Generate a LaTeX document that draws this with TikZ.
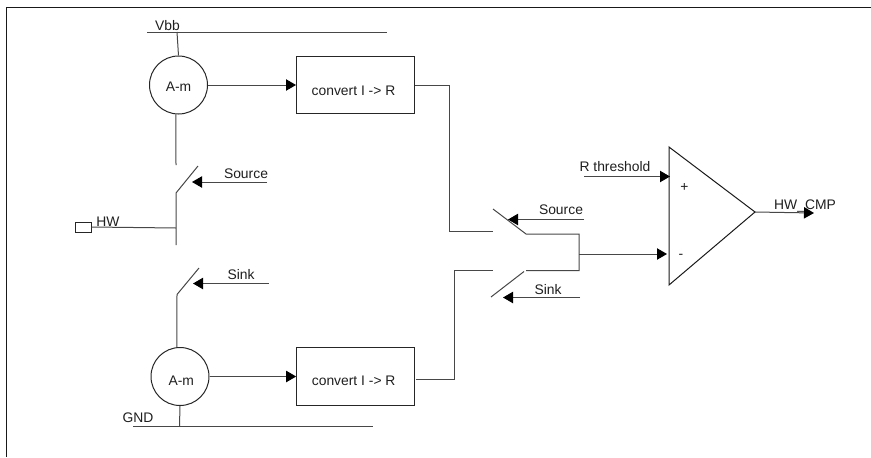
\documentclass[tikz,border=0pt]{standalone}
\usepackage{fontspec}
\setmainfont{Liberation Sans}
\usetikzlibrary{
	arrows.meta,
	positioning
}

\begin{document}
\begin{tikzpicture}[x=0.75pt, y=-0.75pt, line width=0.75pt, black!72,
        >={Triangle[length=7.5pt, width=8.5pt, color=black]},
        lbl/.style={inner sep=0pt, text=black!88, font=\fontsize{10.4}{12}\selectfont},
        meter/.style={draw=black!85, circle, minimum size=43.5pt, inner sep=0pt},
        conv/.style={draw=black!85, rectangle, minimum width=88.5pt, minimum height=43pt, inner sep=0pt}]
        \useasboundingbox (0,0) rectangle (871,457);
        \draw[black!90, line width=1.1pt] (871,7.5) -- (6.5,7.5) -- (6.5,457); % Page frame, open on two sides

        \node[meter, label={[lbl, yshift=-1.5pt]center:A-m}] (AmTop) at (178.5,85) {};
        \node[conv, right=66pt of AmTop, label={[lbl, yshift=-4pt, xshift=-1.5pt]center:convert I -> R}] (ConvTop) {};
        \node[meter, label={[lbl, yshift=-3.5pt, xshift=1pt]center:A-m}] (AmBot) at (180,376.5) {};
        \node[conv, right=65pt of AmBot, label={[lbl, yshift=-3.5pt, xshift=-1.5pt]center:convert I -> R}] (ConvBot) {};
        \node[draw=black!85, rectangle, minimum width=12pt, minimum height=7.5pt, inner sep=0pt] (HWpad) at (83,227) {};

        \node[lbl] (Vbb) at (167.5,26) {Vbb};
        \node[lbl] (GND) at (138,418) {GND};
        \node[lbl] (HW) at (108,221.5) {HW};
        \node[lbl] (SrcA) at (246,174) {Source};
        \node[lbl] (SnkA) at (241,275) {Sink};
        \node[lbl] (SrcB) at (561,210) {Source};
        \node[lbl] (SnkB) at (548,290) {Sink};
        \node[lbl] (Rth) at (615,167) {R threshold};
        \node[lbl] (Out) at (805,206) {HW\_CMP};
        \node[lbl] (Plus) at (684.5,187) {+};
        \node[lbl] (Minus) at (681,256) {-};

        % Supply rails
        \coordinate (VbbL) at (147,32);
        \coordinate (VbbR) at (387,32);
        \coordinate (VbbTap) at (177,32);
        \coordinate (GndL) at (133,426);
        \coordinate (GndR) at (373,426);
        \coordinate (GndTap) at (179.5,426);
        \draw (VbbL) -- (VbbR);
        \draw (VbbTap) -- (AmTop.north);
        \draw (GndL) -- (GndR);
        \draw (AmBot.south) -- (GndTap);

        % Left switches
        \coordinate (SwAopen) at (176,165);
        \coordinate (SwAtip) at (198,166);
        \coordinate (SwAhinge) at (176,193);
        \coordinate (SwAend) at (176,245);
        \coordinate (HWtap) at (176,228);
        \coordinate (SrcAfrom) at (267,182);
        \coordinate (SrcAto) at (192,182);
        \coordinate (SwBtip) at (199,268);
        \coordinate (SwBhinge) at (177,294.5);
        \coordinate (SnkAfrom) at (268.5,283.5);
        \coordinate (SnkAto) at (193,283.5);
        \draw (AmTop.265) -- (SwAopen);
        \draw (SwAtip) -- (SwAhinge) -- (SwAend);
        \draw (HWpad.east) -- (HWtap);
        \draw[->] (SrcAfrom) -- (SrcAto);
        \draw (SwBtip) -- (SwBhinge) -- (AmBot.96);
        \draw[->] (SnkAfrom) -- (SnkAto);

        \draw[->] (AmTop) -- (ConvTop);
        \draw[->] (AmBot) -- (ConvBot);

        % Right switches
        \coordinate (TopTurn) at (449,85);
        \coordinate (TopIn) at (449,231);
        \coordinate (TopEnd) at (493,231);
        \coordinate (BotOut) at (416,379);
        \coordinate (BotTurn) at (454,379);
        \coordinate (BotIn) at (454,270.5);
        \coordinate (BotEnd) at (493,270.5);
        \coordinate (SwCtip) at (493,209);
        \coordinate (SwChinge) at (526,234);
        \coordinate (SwDtip) at (491,297);
        \coordinate (SwDhinge) at (524,271.5);
        \coordinate (SwDstart) at (526,270.5);
        \coordinate (Join) at (579,270.5);
        \coordinate (JoinTop) at (579,234);
        \coordinate (JoinOut) at (579,254);
        \draw (ConvTop.east) -- (TopTurn) -- (TopIn) -- (TopEnd);
        \draw (BotOut) -- (BotTurn) -- (BotIn) -- (BotEnd);
        \draw (SwCtip) -- (SwChinge) -- (JoinTop) -- (Join) -- (SwDstart);
        \draw (SwDtip) -- (SwDhinge);
        \coordinate (SrcBfrom) at (584,219.5);
        \coordinate (SrcBto) at (508,219.5);
        \coordinate (SnkBfrom) at (580,297.5);
        \coordinate (SnkBto) at (503,297.5);
        \draw[->] (SrcBfrom) -- (SrcBto);
        \draw[->] (SnkBfrom) -- (SnkBto);

        % Comparator
        \coordinate (CmpTop) at (669,147);
        \coordinate (CmpBot) at (669,285);
        \coordinate (CmpTip) at (755,212);
        \coordinate (RthFrom) at (584,176.5);
        \coordinate (RthTo) at (670,176.5);
        \coordinate (MinusTo) at (667,254);
        \coordinate (OutTo) at (814,213);
        \draw[black!90] (CmpTop) -- (CmpBot) -- (CmpTip) -- cycle;
        \draw[->] (RthFrom) -- (RthTo);
        \draw[->] (JoinOut) -- (MinusTo);
        \draw[->] (CmpTip) -- (OutTo);
    \end{tikzpicture}
\end{document}
